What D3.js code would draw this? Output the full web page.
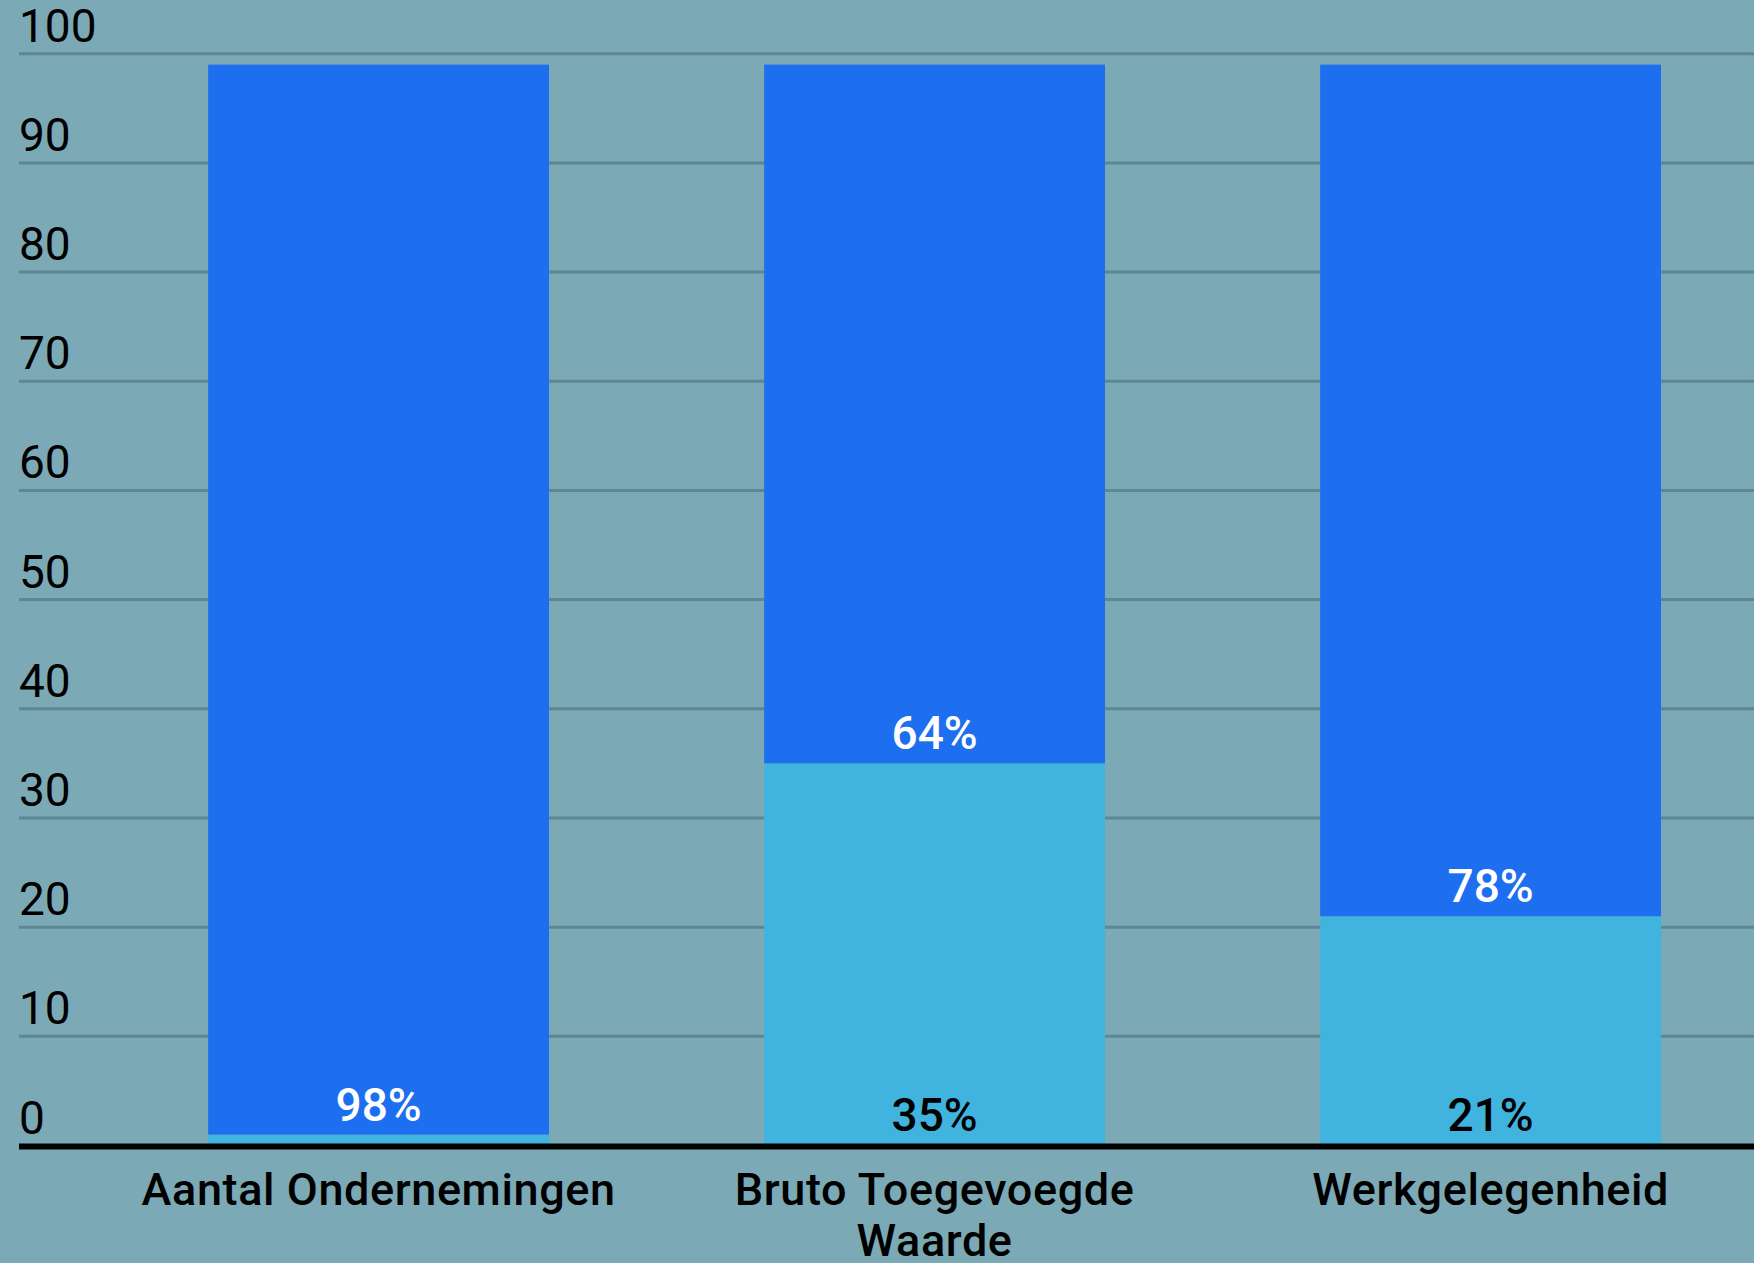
<!DOCTYPE html>
<html>
<head>
<meta charset="utf-8">
<script src="https://cdn.jsdelivr.net/npm/d3@7"></script>
<style>
  html, body { margin: 0; padding: 0; background: #7ba9b5; }
  svg { display: block; }
</style>
</head>
<body>
<svg id="chart" width="1754" height="1263"></svg>
<script>
const categories = ["Aantal Ondernemingen", "Bruto Toegevoegde Waarde", "Werkgelegenheid"];
const lightValues = [1, 35, 21];
const darkValues = [98, 64, 78];
const lightLabels = ["", "35%", "21%"];
const darkLabels = ["98%", "64%", "78%"];
const yTicks = [0, 10, 20, 30, 40, 50, 60, 70, 80, 90, 100];

const W = 1754, H = 1263;
const svg = d3.select("#chart");
svg.append("rect").attr("width", W).attr("height", H).attr("fill", "#7ba9b5");

const y = d3.scaleLinear().domain([0, 100]).range([1145.5, 53.7]);
const x = d3.scaleBand().domain(categories).range([100.6, 1768.6]).paddingInner(0.387).paddingOuter(0.1935);

const gridLeft = 19, gridRight = W;

// gridlines
svg.append("g").selectAll("line").data(yTicks.filter(d => d > 0)).join("line")
  .attr("x1", gridLeft).attr("x2", gridRight)
  .attr("y1", d => y(d)).attr("y2", d => y(d))
  .attr("stroke", "#5d8793").attr("stroke-width", 3);

// tick labels
svg.append("g").selectAll("text").data(yTicks).join("text")
  .attr("x", gridLeft).attr("y", d => y(d) - 12)
  .attr("font-family", "Roboto").attr("font-size", 46).attr("fill", "#000")
  .text(d => d);

const data = categories.map((c, i) => ({ c, light: lightValues[i], dark: darkValues[i], ll: lightLabels[i], dl: darkLabels[i] }));

// light segments
svg.append("g").selectAll("rect").data(data).join("rect")
  .attr("x", d => x(d.c)).attr("width", x.bandwidth())
  .attr("y", d => y(d.light)).attr("height", d => y(0) - y(d.light))
  .attr("fill", "#41b3df");

// dark segments
svg.append("g").selectAll("rect").data(data).join("rect")
  .attr("x", d => x(d.c)).attr("width", x.bandwidth())
  .attr("y", d => y(d.light + d.dark)).attr("height", d => y(d.light) - y(d.light + d.dark))
  .attr("fill", "#1e6ef0");

// labels
svg.append("g").selectAll("text").data(data).join("text")
  .attr("x", d => x(d.c) + x.bandwidth() / 2).attr("y", d => y(d.light) - 14)
  .attr("text-anchor", "middle").attr("font-family", "Roboto").attr("font-weight", 500)
  .attr("font-size", 46).attr("fill", "#fff").text(d => d.dl);

svg.append("g").selectAll("text").data(data).join("text")
  .attr("x", d => x(d.c) + x.bandwidth() / 2).attr("y", d => y(0) - 15)
  .attr("text-anchor", "middle").attr("font-family", "Roboto").attr("font-weight", 500)
  .attr("font-size", 46).attr("fill", "#000").text(d => d.ll);

// x axis line
svg.append("line").attr("x1", gridLeft).attr("x2", gridRight)
  .attr("y1", y(0) + 1).attr("y2", y(0) + 1)
  .attr("stroke", "#000").attr("stroke-width", 6);

// category labels with wrapping
const baseY = 59, lineH = 51;
const xAxis = d3.axisBottom(x).tickSize(0).tickPadding(0);
const gx = svg.append("g").attr("transform", `translate(0,${y(0)})`).call(xAxis);
gx.select(".domain").remove();
gx.selectAll("text")
  .attr("font-family", "Roboto").attr("font-weight", 500).attr("font-size", 45)
  .attr("letter-spacing", 0.6).attr("fill", "#000")
  .attr("dy", null).attr("y", baseY)
  .each(function () {
    const t = d3.select(this);
    const words = t.text().split(/\s+/);
    const maxW = x.step() * 0.9;
    t.text(null);
    let line = [];
    let ts = t.append("tspan").attr("x", 0).attr("y", baseY);
    let lineNo = 0;
    for (const w of words) {
      line.push(w);
      ts.text(line.join(" "));
      if (ts.node().getComputedTextLength() > maxW && line.length > 1) {
        line.pop();
        ts.text(line.join(" "));
        line = [w];
        lineNo++;
        ts = t.append("tspan").attr("x", 0).attr("y", baseY + lineNo * lineH).text(w);
      }
    }
  });
</script>
</body>
</html>
